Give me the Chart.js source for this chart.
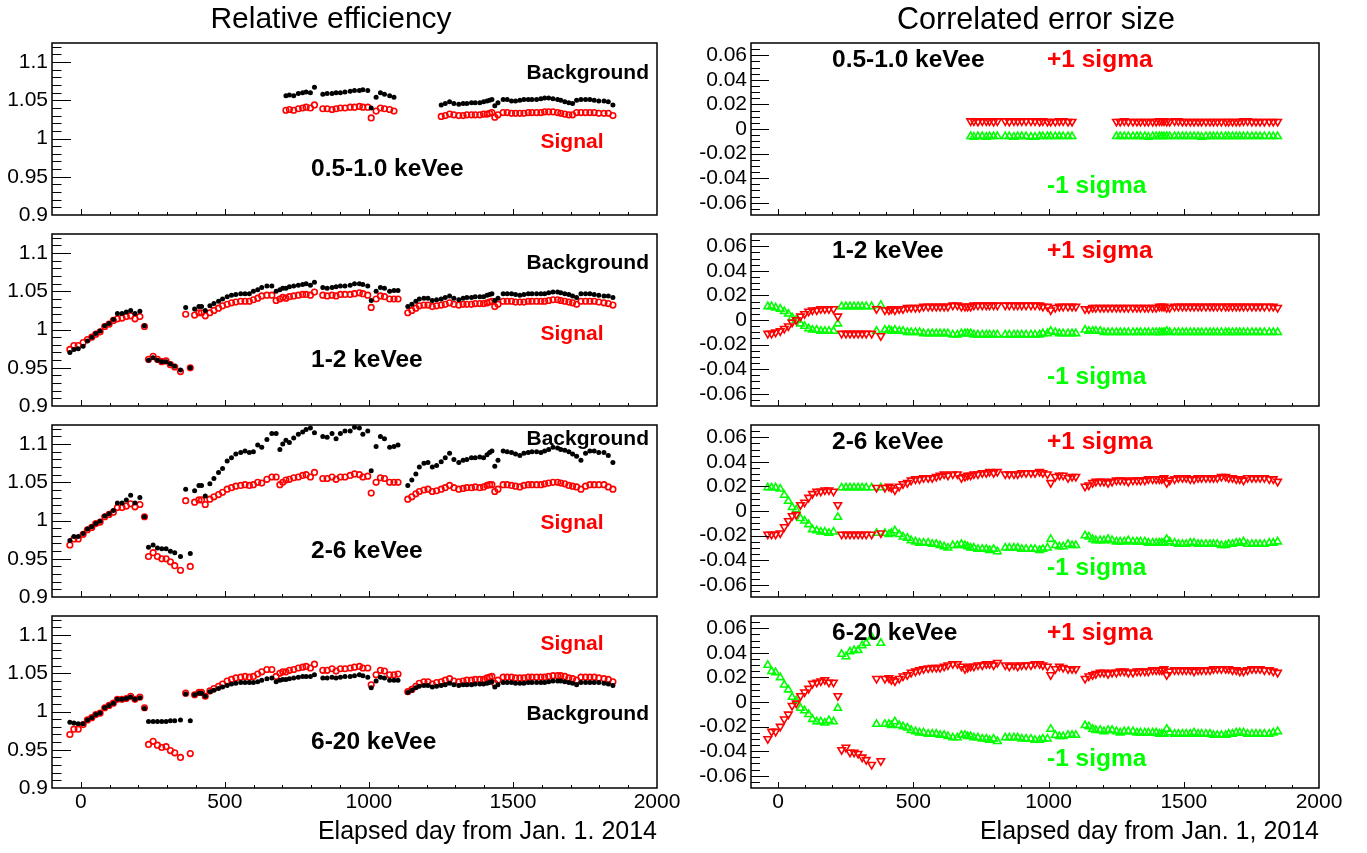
<!DOCTYPE html>
<html>
<head>
<meta charset="utf-8">
<script src="https://cdn.jsdelivr.net/npm/chart.js@4.4.0/dist/chart.umd.min.js"></script>
<style>
  body { margin: 0; background: #fff; width: 1367px; height: 853px; position: relative; overflow: hidden;
         font-family: "Liberation Sans", Arial, Helvetica, sans-serif; }
  canvas { position: absolute; }
  .t { position: absolute; white-space: nowrap; line-height: 1; }
</style>
</head>
<body>
<script>
// elapsed days of each measurement (rows 1-2 keVee .. 6-20 keVee)
const days = [
  -38, -24, -9, 8, 23, 38, 52, 67, 83, 98, 113, 127, 143, 158, 173, 188, 205, 221,
  235, 251, 266, 281, 296, 311, 326, 346, 380,
  364, 395, 410, 419, 432, 448, 462, 478, 492, 508, 523, 538, 555, 570, 585, 599, 614,
  628, 646, 663, 678, 691, 701, 712, 724, 739, 755, 770, 782, 797, 811,
  840, 855, 872, 886, 901, 917, 935, 950, 967, 979, 996, 1008,
  1025, 1040, 1054, 1072, 1087, 1101,
  1135, 1149, 1163, 1175, 1191, 1205, 1220, 1235, 1251, 1265, 1280, 1295, 1312, 1327,
  1340, 1356, 1369, 1385, 1398, 1410, 1419, 1427, 1437, 1448, 1466, 1480, 1495, 1509, 1524,
  1538, 1553, 1566, 1582, 1597, 1610, 1624, 1639, 1655, 1666, 1680, 1694, 1707, 1721, 1736,
  1752, 1767, 1782, 1798, 1816, 1831, 1847
];
// the 0.5-1.0 keVee bin only exists for later days
const days05 = [
  712, 724, 739, 755, 770, 782, 797, 811,
  840, 855, 872, 886, 901, 917, 935, 950, 967, 979, 996, 1008,
  1025, 1040, 1054, 1072, 1087,
  1251, 1265, 1280, 1295, 1312, 1327,
  1340, 1356, 1369, 1385, 1398, 1410, 1419, 1427, 1437, 1448, 1466, 1480, 1495, 1509, 1524,
  1538, 1553, 1566, 1582, 1597, 1610, 1624, 1639, 1655, 1666, 1680, 1694, 1707, 1721, 1736,
  1752, 1767, 1782, 1798, 1816, 1831, 1847
];

// ---- relative efficiency ----
const bkg05 = [
  1.056, 1.057, 1.056, 1.059, 1.060, 1.061, 1.060, 1.067,
  1.058, 1.059, 1.059, 1.060, 1.060, 1.061, 1.062, 1.063, 1.063, 1.064, 1.063, 1.040,
  1.054, 1.060, 1.058, 1.056, 1.054,
  1.044, 1.046, 1.048, 1.046, 1.045, 1.046, 1.046, 1.047, 1.047, 1.047,
  1.048, 1.049, 1.050, 1.051, 1.043, 1.047, 1.051, 1.051, 1.049, 1.049,
  1.050, 1.051, 1.051, 1.051, 1.051, 1.052, 1.053, 1.053, 1.052, 1.051,
  1.050, 1.048, 1.047, 1.046, 1.050, 1.051, 1.051, 1.051, 1.050, 1.049,
  1.049, 1.048, 1.044
];
const sig05 = [
  1.037, 1.038, 1.037, 1.039, 1.040, 1.041, 1.040, 1.044,
  1.039, 1.039, 1.038, 1.039, 1.040, 1.040, 1.041, 1.041, 1.042, 1.041, 1.041, 1.027,
  1.036, 1.040, 1.039, 1.038, 1.036,
  1.029, 1.030, 1.032, 1.031, 1.030, 1.030, 1.031, 1.031, 1.031, 1.031,
  1.032, 1.032, 1.033, 1.034, 1.028, 1.031, 1.034, 1.034, 1.033, 1.033,
  1.033, 1.033, 1.034, 1.034, 1.034, 1.034, 1.035, 1.035, 1.035, 1.034,
  1.033, 1.032, 1.031, 1.031, 1.034, 1.034, 1.034, 1.034, 1.034, 1.033,
  1.033, 1.033, 1.030
];
const bkg1_2 = [
  0.970, 0.974, 0.975, 0.978, 0.985, 0.990, 0.995, 0.998, 1.005, 1.008, 1.013, 1.021, 1.021, 1.023, 1.025, 1.021, 1.024, 1.005,
  0.960, 0.963, 0.960, 0.958, 0.958, 0.955, 0.952, 0.947, 0.950,
  1.029, 1.027, 1.030, 1.030, 1.025, 1.031, 1.034, 1.037, 1.040, 1.043, 1.045, 1.046, 1.047, 1.047, 1.047, 1.050, 1.052,
  1.055, 1.057, 1.057, 1.050, 1.052, 1.054, 1.054, 1.056, 1.057, 1.058, 1.059, 1.060, 1.058, 1.062,
  1.055, 1.054, 1.055, 1.056, 1.057, 1.057, 1.058, 1.060, 1.060, 1.059, 1.057, 1.038,
  1.050, 1.055, 1.054, 1.050, 1.051, 1.051,
  1.030, 1.033, 1.037, 1.040, 1.041, 1.041, 1.038, 1.039, 1.040, 1.042, 1.044, 1.041, 1.039, 1.041,
  1.042, 1.042, 1.043, 1.043, 1.043, 1.045, 1.046, 1.047, 1.038, 1.041,
  1.047, 1.047, 1.047, 1.046, 1.045, 1.046, 1.047, 1.047, 1.047, 1.047,
  1.047, 1.048, 1.049, 1.049, 1.048, 1.047, 1.046, 1.044, 1.042, 1.047,
  1.047, 1.047, 1.046, 1.045, 1.044, 1.044, 1.042
];
const sig1_2 = [
  0.974, 0.979, 0.979, 0.983, 0.987, 0.990, 0.994, 0.997, 1.004, 1.007, 1.012, 1.014, 1.015, 1.017, 1.018, 1.014, 1.017, 1.004,
  0.961, 0.965, 0.961, 0.958, 0.959, 0.954, 0.951, 0.945, 0.950,
  1.020, 1.019, 1.022, 1.022, 1.018, 1.022, 1.025, 1.028, 1.031, 1.033, 1.035, 1.036, 1.037, 1.037, 1.037, 1.039, 1.041,
  1.044, 1.045, 1.045, 1.038, 1.040, 1.042, 1.041, 1.043, 1.044, 1.045, 1.046, 1.046, 1.045, 1.049,
  1.045, 1.044, 1.045, 1.044, 1.046, 1.046, 1.046, 1.047, 1.048, 1.047, 1.045, 1.029,
  1.040, 1.044, 1.043, 1.040, 1.040, 1.040,
  1.022, 1.025, 1.028, 1.031, 1.032, 1.032, 1.030, 1.031, 1.032, 1.033, 1.035, 1.033, 1.032, 1.033,
  1.033, 1.033, 1.034, 1.034, 1.034, 1.035, 1.036, 1.037, 1.030, 1.033,
  1.037, 1.037, 1.037, 1.036, 1.036, 1.036, 1.037, 1.037, 1.037, 1.037,
  1.037, 1.038, 1.039, 1.039, 1.038, 1.037, 1.036, 1.035, 1.033, 1.037,
  1.037, 1.037, 1.037, 1.036, 1.035, 1.034, 1.032
];
const bkg2_6 = [
  0.974, 0.979, 0.979, 0.983, 0.989, 0.992, 0.996, 0.999, 1.006, 1.009, 1.013, 1.023, 1.023, 1.027, 1.033, 1.023, 1.030, 1.005,
  0.965, 0.968, 0.964, 0.963, 0.963, 0.960, 0.958, 0.953, 0.957,
  1.041, 1.039, 1.046, 1.046, 1.032, 1.048, 1.055, 1.063, 1.068, 1.078, 1.082, 1.087, 1.089, 1.091, 1.089, 1.090, 1.099,
  1.096, 1.106, 1.114, 1.114, 1.093, 1.100, 1.105, 1.102, 1.108, 1.113, 1.116, 1.119, 1.121, 1.115,
  1.110, 1.109, 1.114, 1.107, 1.114, 1.117, 1.117, 1.122, 1.121, 1.113, 1.117, 1.065,
  1.097, 1.110, 1.107, 1.096, 1.097, 1.099,
  1.046, 1.053, 1.061, 1.070, 1.075, 1.076, 1.070, 1.072, 1.077, 1.082, 1.088, 1.080, 1.076, 1.079,
  1.080, 1.082, 1.082, 1.083, 1.082, 1.086, 1.089, 1.091, 1.071, 1.079,
  1.091, 1.090, 1.089, 1.087, 1.085, 1.088, 1.089, 1.090, 1.090, 1.089,
  1.091, 1.093, 1.096, 1.095, 1.093, 1.092, 1.090, 1.087, 1.084, 1.079,
  1.088, 1.091, 1.091, 1.089, 1.089, 1.085, 1.076
];
const sig2_6 = [
  0.968, 0.976, 0.976, 0.982, 0.988, 0.991, 0.996, 0.998, 1.005, 1.008, 1.011, 1.017, 1.017, 1.019, 1.022, 1.018, 1.021, 1.005,
  0.953, 0.958, 0.953, 0.950, 0.950, 0.946, 0.941, 0.935, 0.940,
  1.026, 1.024, 1.027, 1.027, 1.021, 1.028, 1.031, 1.034, 1.037, 1.041, 1.043, 1.045, 1.046, 1.047, 1.046, 1.047, 1.050,
  1.049, 1.054, 1.057, 1.057, 1.047, 1.050, 1.053, 1.054, 1.056, 1.057, 1.059, 1.060, 1.057, 1.063,
  1.055, 1.055, 1.057, 1.054, 1.057, 1.057, 1.059, 1.061, 1.060, 1.057, 1.058, 1.036,
  1.050, 1.056, 1.055, 1.050, 1.050, 1.050,
  1.028, 1.031, 1.035, 1.038, 1.040, 1.041, 1.038, 1.039, 1.041, 1.043, 1.046, 1.043, 1.041, 1.042,
  1.043, 1.043, 1.044, 1.043, 1.044, 1.046, 1.047, 1.047, 1.038, 1.041,
  1.047, 1.047, 1.046, 1.045, 1.044, 1.046, 1.047, 1.047, 1.047, 1.047,
  1.048, 1.049, 1.050, 1.050, 1.049, 1.048, 1.046, 1.045, 1.044, 1.041,
  1.045, 1.047, 1.047, 1.047, 1.047, 1.044, 1.041
];
const bkg6_20 = [
  0.986, 0.985, 0.984, 0.984, 0.989, 0.992, 0.996, 0.998, 1.005, 1.008, 1.011, 1.016, 1.016, 1.017, 1.019, 1.016, 1.018, 1.004,
  0.987, 0.987, 0.987, 0.987, 0.987, 0.988, 0.988, 0.989, 0.988,
  1.023, 1.022, 1.024, 1.024, 1.020, 1.026, 1.028, 1.030, 1.032, 1.034, 1.036, 1.037, 1.038, 1.038, 1.038, 1.038, 1.039,
  1.041, 1.043, 1.044, 1.039, 1.041, 1.042, 1.042, 1.043, 1.044, 1.045, 1.046, 1.046, 1.046, 1.048,
  1.044, 1.044, 1.045, 1.044, 1.045, 1.046, 1.046, 1.047, 1.048, 1.047, 1.045, 1.031,
  1.040, 1.045, 1.044, 1.041, 1.041, 1.041,
  1.025, 1.028, 1.031, 1.033, 1.034, 1.034, 1.032, 1.033, 1.034, 1.035, 1.037, 1.035, 1.034, 1.035,
  1.035, 1.035, 1.036, 1.036, 1.036, 1.037, 1.038, 1.039, 1.032, 1.035,
  1.038, 1.038, 1.038, 1.037, 1.037, 1.037, 1.038, 1.038, 1.038, 1.038,
  1.038, 1.039, 1.040, 1.040, 1.040, 1.039, 1.038, 1.037, 1.035, 1.038,
  1.038, 1.038, 1.038, 1.038, 1.037, 1.036, 1.034
];
const sig6_20 = [
  0.970, 0.977, 0.977, 0.983, 0.989, 0.992, 0.996, 0.998, 1.005, 1.008, 1.011, 1.016, 1.016, 1.017, 1.020, 1.016, 1.019, 1.005,
  0.957, 0.961, 0.956, 0.953, 0.954, 0.949, 0.946, 0.940, 0.945,
  1.024, 1.022, 1.025, 1.025, 1.020, 1.027, 1.030, 1.033, 1.036, 1.040, 1.042, 1.044, 1.045, 1.046, 1.045, 1.046, 1.049,
  1.052, 1.055, 1.055, 1.046, 1.050, 1.052, 1.052, 1.054, 1.055, 1.057, 1.058, 1.059, 1.057, 1.062,
  1.054, 1.054, 1.056, 1.053, 1.056, 1.056, 1.057, 1.058, 1.059, 1.057, 1.057, 1.035,
  1.048, 1.054, 1.053, 1.048, 1.048, 1.049,
  1.026, 1.029, 1.033, 1.037, 1.039, 1.039, 1.036, 1.038, 1.039, 1.041, 1.043, 1.040, 1.039, 1.040,
  1.041, 1.041, 1.042, 1.042, 1.042, 1.044, 1.045, 1.046, 1.037, 1.041,
  1.045, 1.045, 1.045, 1.044, 1.044, 1.044, 1.045, 1.045, 1.045, 1.045,
  1.045, 1.046, 1.047, 1.047, 1.047, 1.046, 1.044, 1.043, 1.041, 1.045,
  1.045, 1.045, 1.045, 1.044, 1.043, 1.042, 1.039
];

// ---- correlated error size ----
const up05 = [
  0.0065, 0.0065, 0.006, 0.0065, 0.0065, 0.0065, 0.006, 0.0065,
  0.0065, 0.006, 0.0065, 0.0065, 0.0065, 0.0065, 0.0065, 0.0065, 0.006, 0.0065, 0.006, 0.006,
  0.006, 0.0065, 0.0065, 0.006, 0.006,
  0.006, 0.006, 0.0065, 0.006, 0.006, 0.006, 0.006, 0.006, 0.006, 0.006,
  0.006, 0.0065, 0.0065, 0.0065, 0.006, 0.006, 0.0065, 0.0065, 0.006, 0.006,
  0.006, 0.006, 0.006, 0.006, 0.006, 0.006, 0.006, 0.006, 0.006, 0.006,
  0.006, 0.006, 0.006, 0.006, 0.0065, 0.0065, 0.006, 0.006, 0.006, 0.006,
  0.006, 0.006, 0.006
];
const dn05 = [
  -0.006, -0.0065, -0.006, -0.006, -0.0065, -0.006, -0.006, -0.006,
  -0.006, -0.006, -0.0065, -0.006, -0.006, -0.006, -0.0065, -0.0065, -0.006, -0.006, -0.006, -0.006,
  -0.006, -0.006, -0.006, -0.006, -0.006,
  -0.006, -0.006, -0.006, -0.006, -0.006, -0.006, -0.006, -0.006, -0.0065, -0.006,
  -0.006, -0.006, -0.006, -0.006, -0.006, -0.006, -0.006, -0.006, -0.006, -0.006,
  -0.006, -0.006, -0.006, -0.0065, -0.006, -0.006, -0.006, -0.006, -0.006, -0.006,
  -0.006, -0.006, -0.006, -0.006, -0.006, -0.006, -0.006, -0.006, -0.006, -0.006,
  -0.006, -0.006, -0.006
];
const up1_2 = [
  -0.011, -0.011, -0.010, -0.009, -0.007, -0.005, -0.002, 0.000, 0.003, 0.005, 0.007, 0.008, 0.008, 0.009, 0.009, 0.009, 0.009, 0.003,
  -0.011, -0.011, -0.011, -0.011, -0.011, -0.011, -0.011, -0.011, -0.013,
  0.009, 0.008, 0.008, 0.009, 0.008, 0.009, 0.009, 0.010, 0.010, 0.010, 0.010, 0.011, 0.011, 0.011, 0.011, 0.011, 0.011,
  0.011, 0.012, 0.012, 0.011, 0.011, 0.011, 0.011, 0.012, 0.012, 0.012, 0.012, 0.012, 0.012, 0.012,
  0.012, 0.012, 0.012, 0.012, 0.012, 0.012, 0.012, 0.012, 0.012, 0.011, 0.011, 0.008,
  0.010, 0.011, 0.011, 0.011, 0.011, 0.011,
  0.009, 0.009, 0.010, 0.010, 0.010, 0.010, 0.010, 0.010, 0.010, 0.010,
  0.010, 0.010, 0.010, 0.010, 0.010, 0.010, 0.010, 0.010, 0.010, 0.011,
  0.011, 0.011, 0.010, 0.010, 0.011, 0.011, 0.011, 0.011, 0.011, 0.011,
  0.011, 0.011, 0.011, 0.011, 0.011, 0.011, 0.011, 0.011, 0.011, 0.011,
  0.011, 0.011, 0.011, 0.011, 0.011, 0.011, 0.011, 0.011, 0.011, 0.011,
  0.010
];
const dn1_2 = [
  0.011, 0.011, 0.010, 0.009, 0.007, 0.005, 0.002, 0.000, -0.003, -0.005, -0.007, -0.008, -0.008, -0.009, -0.009, -0.009, -0.009, -0.003,
  0.011, 0.011, 0.011, 0.011, 0.011, 0.011, 0.011, 0.011, 0.012,
  -0.009, -0.008, -0.008, -0.009, -0.008, -0.009, -0.009, -0.010, -0.010, -0.010, -0.010, -0.011, -0.011, -0.011, -0.011, -0.011, -0.011,
  -0.011, -0.012, -0.012, -0.011, -0.011, -0.011, -0.011, -0.012, -0.012, -0.012, -0.012, -0.012, -0.012, -0.012,
  -0.012, -0.012, -0.012, -0.012, -0.012, -0.012, -0.012, -0.012, -0.012, -0.011, -0.011, -0.009,
  -0.010, -0.011, -0.011, -0.011, -0.011, -0.011,
  -0.008, -0.009, -0.009, -0.009, -0.009, -0.010, -0.010, -0.010, -0.010, -0.010,
  -0.010, -0.010, -0.010, -0.010, -0.010, -0.010, -0.010, -0.010, -0.010, -0.010,
  -0.010, -0.010, -0.009, -0.010, -0.010, -0.010, -0.010, -0.010, -0.010, -0.010,
  -0.010, -0.010, -0.010, -0.010, -0.010, -0.010, -0.010, -0.010, -0.010, -0.010,
  -0.010, -0.010, -0.010, -0.010, -0.010, -0.010, -0.010, -0.010, -0.010, -0.010,
  -0.010
];
const up2_6 = [
  -0.019, -0.019, -0.019, -0.018, -0.013, -0.008, -0.004, -0.003, 0.005, 0.007, 0.011, 0.014, 0.016, 0.016, 0.017, 0.017, 0.016, 0.005,
  -0.019, -0.019, -0.019, -0.019, -0.019, -0.019, -0.019, -0.019, -0.018,
  0.019, 0.019, 0.020, 0.019, 0.017, 0.020, 0.022, 0.023, 0.025, 0.026, 0.026, 0.027, 0.027, 0.027, 0.028, 0.029, 0.030,
  0.029, 0.030, 0.030, 0.027, 0.028, 0.029, 0.029, 0.030, 0.030, 0.031, 0.031, 0.032, 0.031, 0.032,
  0.030, 0.030, 0.030, 0.030, 0.031, 0.031, 0.031, 0.031, 0.032, 0.031, 0.030, 0.023,
  0.028, 0.029, 0.029, 0.027, 0.028, 0.028,
  0.020, 0.021, 0.023, 0.024, 0.024, 0.024, 0.023, 0.024, 0.025, 0.025,
  0.025, 0.024, 0.025, 0.025, 0.025, 0.025, 0.026, 0.026, 0.026, 0.026,
  0.026, 0.027, 0.023, 0.025, 0.026, 0.027, 0.027, 0.027, 0.026, 0.026,
  0.027, 0.027, 0.027, 0.027, 0.027, 0.027, 0.028, 0.028, 0.027, 0.027,
  0.026, 0.026, 0.025, 0.027, 0.027, 0.027, 0.027, 0.027, 0.026, 0.026,
  0.024
];
const dn2_6 = [
  0.019, 0.019, 0.019, 0.018, 0.013, 0.008, 0.003, 0.001, -0.006, -0.008, -0.011, -0.015, -0.016, -0.017, -0.017, -0.018, -0.017, -0.005,
  0.019, 0.019, 0.019, 0.019, 0.019, 0.019, 0.019, 0.019, 0.019,
  -0.018, -0.018, -0.019, -0.018, -0.016, -0.019, -0.021, -0.022, -0.024, -0.025, -0.026, -0.026, -0.026, -0.027, -0.027, -0.028, -0.029,
  -0.030, -0.028, -0.028, -0.027, -0.028, -0.029, -0.030, -0.030, -0.031, -0.031, -0.031, -0.032, -0.031, -0.033,
  -0.030, -0.030, -0.030, -0.030, -0.031, -0.031, -0.031, -0.031, -0.032, -0.031, -0.030, -0.023,
  -0.028, -0.029, -0.029, -0.027, -0.028, -0.028,
  -0.020, -0.021, -0.023, -0.024, -0.024, -0.024, -0.023, -0.024, -0.025, -0.025,
  -0.025, -0.024, -0.025, -0.025, -0.025, -0.025, -0.026, -0.026, -0.026, -0.026,
  -0.026, -0.026, -0.023, -0.025, -0.026, -0.027, -0.027, -0.027, -0.026, -0.026,
  -0.027, -0.027, -0.027, -0.027, -0.027, -0.027, -0.028, -0.028, -0.027, -0.027,
  -0.026, -0.026, -0.025, -0.027, -0.027, -0.027, -0.027, -0.027, -0.026, -0.026,
  -0.025
];
const up6_20 = [
  -0.030, -0.024, -0.024, -0.020, -0.014, -0.010, -0.003, -0.001, 0.005, 0.008, 0.011, 0.015, 0.016, 0.017, 0.018, 0.016, 0.016, 0.005,
  -0.039, -0.037, -0.041, -0.041, -0.042, -0.045, -0.047, -0.051, -0.048,
  0.019, 0.019, 0.0195, 0.018, 0.017, 0.019, 0.021, 0.022, 0.024, 0.025, 0.026, 0.027, 0.0276, 0.028, 0.028, 0.028, 0.029,
  0.030, 0.031, 0.031, 0.029, 0.027, 0.028, 0.029, 0.029, 0.030, 0.030, 0.031, 0.031, 0.030, 0.032,
  0.030, 0.029, 0.030, 0.029, 0.030, 0.030, 0.030, 0.031, 0.031, 0.030, 0.029, 0.022,
  0.027, 0.029, 0.028, 0.027, 0.027, 0.027,
  0.019, 0.021, 0.022, 0.023, 0.024, 0.024, 0.023, 0.024, 0.024, 0.025,
  0.025, 0.024, 0.024, 0.025, 0.025, 0.025, 0.025, 0.026, 0.026, 0.026,
  0.026, 0.027, 0.022, 0.025, 0.026, 0.026, 0.026, 0.026, 0.026, 0.025,
  0.026, 0.026, 0.026, 0.026, 0.027, 0.027, 0.027, 0.027, 0.027, 0.026,
  0.026, 0.025, 0.025, 0.026, 0.027, 0.027, 0.027, 0.026, 0.026, 0.025,
  0.024
];
const dn6_20 = [
  0.030, 0.025, 0.024, 0.020, 0.014, 0.010, 0.004, 0.001, -0.005, -0.007, -0.010, -0.014, -0.016, -0.016, -0.017, -0.015, -0.016, -0.005,
  0.039, 0.037, 0.041, 0.042, 0.042, 0.046, 0.048, 0.053, 0.048,
  -0.018, -0.018, -0.018, -0.019, -0.016, -0.019, -0.020, -0.021, -0.023, -0.024, -0.025, -0.025, -0.026, -0.026, -0.026, -0.027, -0.027,
  -0.028, -0.029, -0.029, -0.027, -0.027, -0.028, -0.028, -0.029, -0.029, -0.030, -0.030, -0.031, -0.030, -0.032,
  -0.029, -0.029, -0.029, -0.029, -0.030, -0.030, -0.030, -0.031, -0.031, -0.030, -0.030, -0.022,
  -0.027, -0.028, -0.028, -0.027, -0.027, -0.027,
  -0.019, -0.020, -0.022, -0.023, -0.023, -0.024, -0.023, -0.023, -0.024, -0.025,
  -0.024, -0.024, -0.024, -0.025, -0.025, -0.025, -0.025, -0.025, -0.025, -0.026,
  -0.026, -0.026, -0.022, -0.025, -0.026, -0.026, -0.026, -0.026, -0.026, -0.025,
  -0.026, -0.026, -0.026, -0.026, -0.027, -0.027, -0.027, -0.027, -0.026, -0.026,
  -0.025, -0.025, -0.025, -0.026, -0.026, -0.026, -0.026, -0.026, -0.026, -0.025,
  -0.024
];

// axes
const xTicks = [0, 500, 1000, 1500, 2000];
const xLabels = ['0', '500', '1000', '1500', '2000'];
const effTicks = [0.9, 0.95, 1, 1.05, 1.1];
const effLabels = ['0.9', '0.95', '1', '1.05', '1.1'];
const errTicks = [-0.06, -0.04, -0.02, 0, 0.02, 0.04, 0.06];
const errLabels = ['-0.06', '-0.04', '-0.02', '0', '0.02', '0.04', '0.06'];

const bins = ['0.5-1.0 keVee', '1-2 keVee', '2-6 keVee', '6-20 keVee'];

// sanity check on lengths
[[bkg05, sig05, up05, dn05], [bkg1_2, sig1_2, up1_2, dn1_2], [bkg2_6, sig2_6, up2_6, dn2_6], [bkg6_20, sig6_20, up6_20, dn6_20]]
  .forEach((group, r) => group.forEach((arr, k) => {
    const n = r === 0 ? days05.length : days.length;
    if (arr.length !== n) throw new Error('row ' + r + ' series ' + k + ' has ' + arr.length + ' values, expected ' + n);
  }));

Chart.defaults.font.family = '"Liberation Sans", Arial, Helvetica, sans-serif';
Chart.defaults.color = '#000';

const RED = '#ff0000';
const GREEN = '#00ff00';
const ROW_TOP = [43, 234, 425, 616];
const ROW_H = 172;

function pts(xs, ys) {
  return xs.map((x, i) => ({ x, y: ys[i] }));
}

// frame + inward ticks like ROOT
function frameTicks(yMajor, yMin, yMax, yMinorStep, yLen) {
  return {
    id: 'frameTicks',
    afterDraw(chart) {
      const { ctx, chartArea: a, scales: { x, y } } = chart;
      ctx.save();
      ctx.strokeStyle = '#000';
      ctx.lineWidth = 1;
      ctx.beginPath();
      const nMinor = Math.round((yMax - yMin) / yMinorStep);
      for (let k = 0; k <= nMinor; k++) {
        const v = yMin + k * yMinorStep;
        const py = Math.round(y.getPixelForValue(v)) + 0.5;
        if (py <= a.top + 1 || py >= a.bottom - 1) continue;
        const major = yMajor.some(t => Math.abs(t - v) < 1e-9);
        ctx.moveTo(a.left, py);
        ctx.lineTo(a.left + (major ? yLen : yLen / 2), py);
      }
      for (let d = -100; d <= 2000; d += 100) {
        const px = Math.round(x.getPixelForValue(d)) + 0.5;
        if (px <= a.left + 1 || px >= a.right - 1) continue;
        const major = xTicks.includes(d);
        ctx.moveTo(px, a.bottom);
        ctx.lineTo(px, a.bottom - (major ? 6 : 3));
      }
      ctx.stroke();
      ctx.lineWidth = 1.5;
      ctx.strokeRect(a.left, a.top, a.right - a.left, a.bottom - a.top);
      ctx.restore();
    }
  };
}

function makePanel(col, row) {
  const bottom = row === 3;
  const left = col === 0 ? 0 : 690;
  const w = col === 0 ? 680 : 677;
  const yW = col === 0 ? 52 : 61;
  const padR = col === 0 ? 23 : 48;
  const top = ROW_TOP[row] - 12;
  const xH = bottom ? 61 : 0;
  const padB = bottom ? 4 : 6;
  const h = 12 + ROW_H + xH + padB;

  const cv = document.createElement('canvas');
  cv.width = w; cv.height = h;
  cv.style.left = left + 'px'; cv.style.top = top + 'px';
  cv.style.width = w + 'px'; cv.style.height = h + 'px';
  document.body.appendChild(cv);

  const xs = row === 0 ? days05 : days;
  let datasets, yTicks, yLabels, yMin, yMax, yStep;
  if (col === 0) {
    const bkg = [bkg05, bkg1_2, bkg2_6, bkg6_20][row];
    const sig = [sig05, sig1_2, sig2_6, sig6_20][row];
    datasets = [
      { label: 'Background', data: pts(xs, bkg), pointStyle: 'circle', pointRadius: 2.5,
        backgroundColor: '#000', borderColor: '#000', borderWidth: 0 },
      { label: 'Signal', data: pts(xs, sig), pointStyle: 'circle', pointRadius: 2.8,
        backgroundColor: 'rgba(0,0,0,0)', borderColor: RED, borderWidth: 1.6 },
    ];
    yTicks = effTicks; yLabels = effLabels; yMin = 0.9; yMax = 1.125; yStep = 0.01;
  } else {
    const up = [up05, up1_2, up2_6, up6_20][row];
    const dn = [dn05, dn1_2, dn2_6, dn6_20][row];
    datasets = [
      { label: '+1 sigma', data: pts(xs, up), pointStyle: 'triangle', pointRotation: 180, pointRadius: 4.3,
        backgroundColor: 'rgba(0,0,0,0)', borderColor: RED, borderWidth: 1.6 },
      { label: '-1 sigma', data: pts(xs, dn), pointStyle: 'triangle', pointRotation: 0, pointRadius: 4.3,
        backgroundColor: 'rgba(0,0,0,0)', borderColor: GREEN, borderWidth: 1.6 },
    ];
    yTicks = errTicks; yLabels = errLabels; yMin = -0.07; yMax = 0.07; yStep = 0.005;
  }

  new Chart(cv, {
    type: 'scatter',
    data: { datasets },
    options: {
      responsive: false,
      animation: false,
      devicePixelRatio: 1,
      layout: { padding: { left: 0, right: padR, top: 12, bottom: padB } },
      plugins: { legend: { display: false }, tooltip: { enabled: false } },
      scales: {
        x: {
          type: 'linear', min: -100, max: 2000,
          grid: { display: false, drawTicks: false },
          border: { display: false },
          afterBuildTicks: s => { s.ticks = xTicks.map(v => ({ value: v })); },
          afterFit: s => { s.height = xH; s.paddingLeft = 0; s.paddingRight = 0; },
          ticks: { display: bottom, autoSkip: false, maxRotation: 0, padding: 2,
                   font: { size: 21 }, callback: (v, i) => xLabels[i] },
          title: { display: bottom, align: 'end', font: { size: 25 }, padding: { top: 0, bottom: 2 },
                   text: col === 0 ? 'Elapsed day from Jan. 1. 2014' : 'Elapsed day from Jan. 1, 2014' }
        },
        y: {
          type: 'linear', min: yMin, max: yMax,
          grid: { display: false, drawTicks: false },
          border: { display: false },
          afterBuildTicks: s => { s.ticks = yTicks.map(v => ({ value: v })); },
          afterFit: s => { s.width = yW; s.paddingTop = 0; s.paddingBottom = 0; },
          ticks: { autoSkip: false, padding: 4, font: { size: 21 }, callback: (v, i) => yLabels[i] }
        }
      }
    },
    plugins: [frameTicks(yTicks, yMin, yMax, yStep, col === 0 ? 19 : 18)]
  });
}

for (let r = 0; r < 4; r++) { makePanel(0, r); makePanel(1, r); }

// text labels
function label(text, x, cy, size, color, align, bold) {
  const d = document.createElement('div');
  d.className = 't';
  d.textContent = text;
  d.style.fontSize = size + 'px';
  d.style.color = color;
  d.style.fontWeight = bold ? 'bold' : 'normal';
  d.style.top = (cy - 0.49 * size) + 'px';
  if (align === 'right') d.style.right = (1367 - x) + 'px';
  else if (align === 'center') { d.style.left = x + 'px'; d.style.transform = 'translateX(-50%)'; }
  else d.style.left = x + 'px';
  document.body.appendChild(d);
}

label('Relative efficiency', 331, 18, 30, '#000', 'center', false);
label('Correlated error size', 1036, 18, 30.5, '#000', 'center', false);

const bkgY = [28, 27, 12.5, 96];
const sigY = [97, 98, 96, 26];
for (let r = 0; r < 4; r++) {
  const T = ROW_TOP[r];
  label('Background', 649, T + bkgY[r], 21, '#000', 'right', true);
  label('Signal', 572, T + sigY[r], 21, RED, 'center', true);
  label(bins[r], 311, T + 125.5, 24.5, '#000', 'left', true);
  label(bins[r], 832, T + 16.5, 24.5, '#000', 'left', true);
  label('+1 sigma', 1047, T + 16.5, 24.5, RED, 'left', true);
  label('-1 sigma', 1047, T + 142, 24.5, GREEN, 'left', true);
}
</script>
</body>
</html>
